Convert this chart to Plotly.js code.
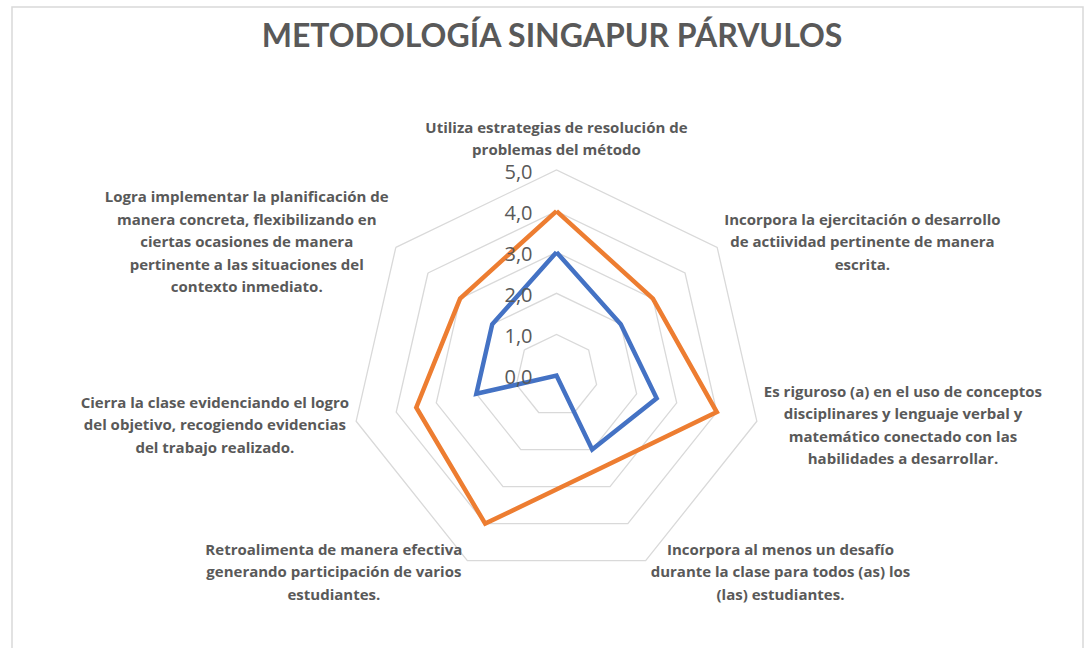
<!DOCTYPE html>
<html>
<head>
<meta charset="utf-8">
<script src="https://cdn.plot.ly/plotly-3.0.1.min.js"></script>
<style>
html, body { margin: 0; padding: 0; background: #ffffff; }
#chart { width: 1086px; height: 648px; }
</style>
</head>
<body>
<div id="chart"></div>
<script>
var chartTitle = "METODOLOGÍA SINGAPUR PÁRVULOS";

var categories = [
  "Utiliza estrategias de resolución de problemas del método",
  "Incorpora la ejercitación o desarrollo de actiividad pertinente de manera escrita.",
  "Es riguroso (a) en el uso de conceptos disciplinares y lenguaje verbal y matemático conectado con las habilidades a desarrollar.",
  "Incorpora al menos un desafío durante la clase para todos (as) los (las) estudiantes.",
  "Retroalimenta de manera efectiva generando participación de varios estudiantes.",
  "Cierra la clase evidenciando el logro del objetivo, recogiendo evidencias del trabajo realizado.",
  "Logra implementar la planificación de manera concreta, flexibilizando en ciertas ocasiones de manera pertinente a las situaciones del contexto inmediato."
];

var tickLabels = [
  "Utiliza estrategias de resolución de<br>problemas del método",
  "Incorpora la ejercitación o desarrollo<br>de actiividad pertinente de manera<br>escrita.",
  "Es riguroso (a) en el uso de conceptos<br>disciplinares y lenguaje verbal y<br>matemático conectado con las<br>habilidades a desarrollar.",
  "Incorpora al menos un desafío<br>durante la clase para todos (as) los<br>(las) estudiantes.",
  "Retroalimenta de manera efectiva<br>generando participación de varios<br>estudiantes.",
  "Cierra la clase evidenciando el logro<br>del objetivo, recogiendo evidencias<br>del trabajo realizado.",
  "Logra implementar la planificación de<br>manera concreta, flexibilizando en<br>ciertas ocasiones de manera<br>pertinente a las situaciones del<br>contexto inmediato."
];

var seriesBlue = [3.0, 2.0, 2.5, 2.0, 0.0, 2.0, 2.0];
var seriesOrange = [4.0, 3.0, 4.0, 2.5, 4.0, 3.5, 3.0];

var radialTicks = [0, 1, 2, 3, 4, 5];
var radialMax = 5;

function closeLoop(arr) { return arr.concat([arr[0]]); }

var gray = "#595959";
var gridGray = "#d9d9d9";
var labelFont = "'Open Sans', 'Noto Sans', sans-serif";

var traces = [
  {
    type: "scatterpolar",
    mode: "lines",
    name: "Serie 1",
    r: closeLoop(seriesBlue),
    theta: closeLoop(categories),
    line: { color: "#4472C4", width: 4.5 },
    hoverinfo: "skip"
  },
  {
    type: "scatterpolar",
    mode: "lines",
    name: "Serie 2",
    r: closeLoop(seriesOrange),
    theta: closeLoop(categories),
    line: { color: "#ED7D31", width: 4.5 },
    hoverinfo: "skip"
  }
];

var cx = 556.5, cy = 375.5, R = 205.5, W = 1086, H = 648;

var layout = {
  width: W,
  height: H,
  margin: { l: 0, r: 0, t: 0, b: 0, pad: 0 },
  paper_bgcolor: "#ffffff",
  plot_bgcolor: "#ffffff",
  showlegend: false,
  separators: ",.",
  font: { family: labelFont, color: gray },
  title: {
    text: "<b>" + chartTitle + "</b>",
    x: 552 / W,
    xanchor: "center",
    y: 1 - 36 / H,
    yanchor: "middle",
    font: { family: "Lato, 'Open Sans', sans-serif", size: 32, color: gray }
  },
  polar: {
    domain: {
      x: [(cx - R) / W, (cx + R) / W],
      y: [(H - cy - R) / H, (H - cy + R) / H]
    },
    bgcolor: "#ffffff",
    gridshape: "linear",
    radialaxis: {
      range: [0, radialMax],
      tickmode: "array",
      tickvals: radialTicks,
      tickformat: ".1f",
      angle: 90,
      tickangle: 90,
      side: "counterclockwise",
      showline: false,
      ticks: "",
      showgrid: true,
      gridcolor: gridGray,
      gridwidth: 1.3,
      tickfont: { family: labelFont, size: 20, color: gray }
    },
    angularaxis: {
      direction: "clockwise",
      rotation: 90,
      tickmode: "array",
      tickvals: categories,
      ticktext: tickLabels,
      showgrid: false,
      showline: true,
      linecolor: gridGray,
      linewidth: 1.3,
      ticks: "",
      tickfont: { family: labelFont, size: 15, color: gray, weight: "bold" }
    }
  },
  shapes: [
    {
      type: "rect",
      xref: "paper", yref: "paper",
      x0: 12 / W, x1: 1083 / W,
      y0: -0.05, y1: 1 - 7 / H,
      line: { color: gridGray, width: 1.5 },
      fillcolor: "rgba(0,0,0,0)"
    }
  ]
};

// shift an element by a screen-space vector, converting it to the parent's frame
function shiftBy(el, dxs, dys) {
  var m = el.parentNode.getScreenCTM();
  var det = m.a * m.d - m.b * m.c;
  var ux = (m.d * dxs - m.c * dys) / det;
  var uy = (-m.b * dxs + m.a * dys) / det;
  var tr = el.getAttribute("transform") || "";
  el.setAttribute("transform", "translate(" + ux + "," + uy + ") " + tr);
}

// Excel-like placement of the axis labels, derived from the polar subplot geometry
function adjustLabels(gd) {
  var sp = gd._fullLayout.polar && gd._fullLayout.polar._subplot;
  var pcx = sp && isFinite(sp.cx) ? sp.cx : cx;
  var pcy = sp && isFinite(sp.cy) ? sp.cy : cy;
  var pr = sp && isFinite(sp.radius) ? sp.radius : R;
  var svgRect = gd.querySelector("svg.main-svg").getBoundingClientRect();
  var ox = svgRect.left, oy = svgRect.top;

  var plainLabels = tickLabels.map(function (s) { return s.split("<br>").join(""); });
  var radialStrings = radialTicks.map(function (v) { return v.toFixed(1).replace(".", ","); });
  var n = categories.length;

  var texts = gd.querySelectorAll("text");
  for (var k = 0; k < texts.length; k++) {
    var t = texts[k];
    var s = t.textContent;
    var ai = plainLabels.indexOf(s);
    var ri = radialStrings.indexOf(s);
    if (ai >= 0) {
      // centre the lines and widen the line spacing
      t.setAttribute("text-anchor", "middle");
      var x0 = t.getAttribute("x");
      var lines = t.querySelectorAll("tspan.line");
      for (var j = 0; j < lines.length; j++) {
        if (x0 !== null) lines[j].setAttribute("x", x0);
        var dy = lines[j].getAttribute("dy");
        if (dy) {
          var num = Math.round(parseFloat(dy) / 1.3);
          lines[j].setAttribute("dy", (num * 1.5) + "em");
        }
      }
      var ang = (90 - ai * 360 / n) * Math.PI / 180;
      var c = Math.cos(ang), si = Math.sin(ang);
      var vx = pcx + pr * c, vy = pcy - pr * si;
      var b = t.getBoundingClientRect();
      var bl = b.left - ox, bt = b.top - oy, bw = b.width, bh = b.height;
      var tx, ty;
      if (Math.abs(c) < 0.1) {
        tx = vx - bw / 2;
        ty = vy - 11 - bh;
      } else {
        var gap = Math.abs(c) > 0.7 ? 7 : 5;
        tx = c > 0 ? vx + gap : vx - gap - bw;
        ty = vy + 1.75 - 11.15 * si - 1 - bh / 2;
      }
      shiftBy(t, tx - bl, ty - bt);
    } else if (ri >= 0) {
      var ringY = pcy - pr * (radialTicks[ri] / radialMax);
      var rb = t.getBoundingClientRect();
      var rl = rb.left - ox, rt = rb.top - oy;
      var trx = pcx - 24 - rb.width;
      var trY = ringY + 1 - rb.height / 2;
      shiftBy(t, trx - rl, trY - rt);
    }
  }
}

Plotly.newPlot("chart", traces, layout, { displayModeBar: false, staticPlot: true })
  .then(function (gd) { adjustLabels(gd); });
</script>
</body>
</html>
